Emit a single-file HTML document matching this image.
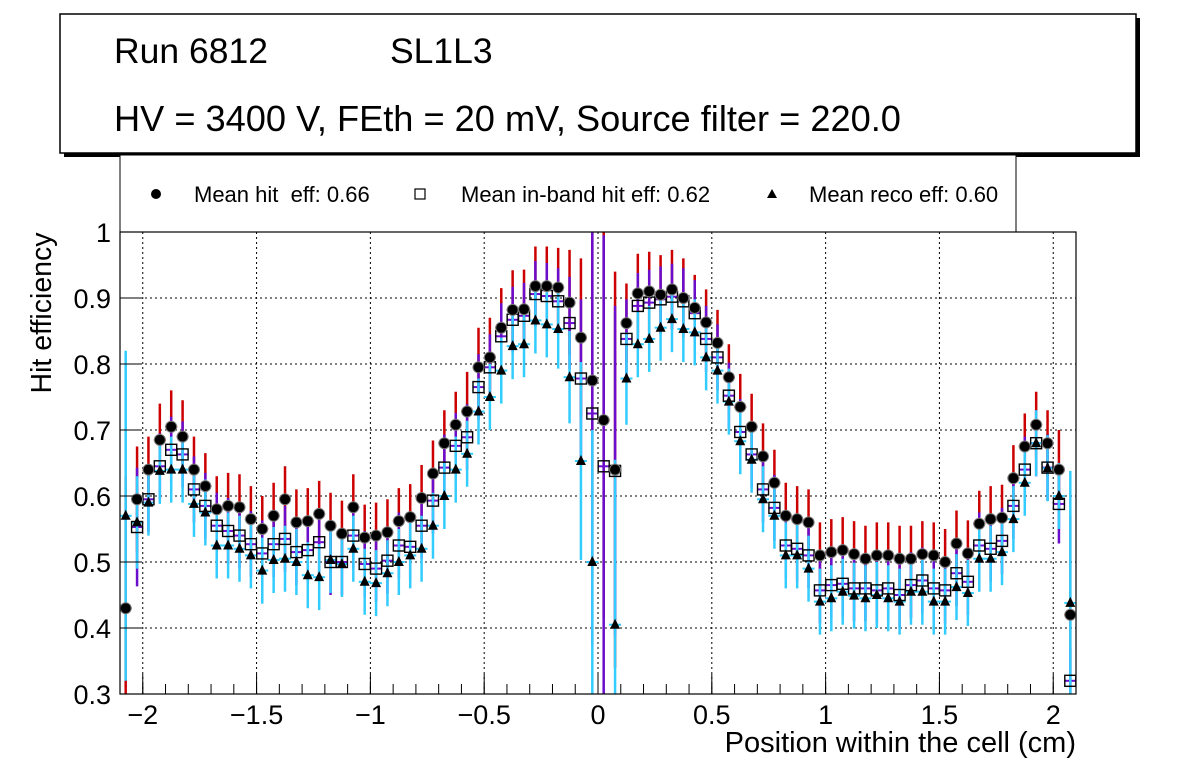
<!DOCTYPE html>
<html><head><meta charset="utf-8"><style>
body{margin:0;background:#fff;}
svg{display:block;font-family:"Liberation Sans",sans-serif;}
</style></head><body>
<svg id="chart" width="1196" height="772" viewBox="0 0 1196 772" xmlns="http://www.w3.org/2000/svg">
<rect x="0" y="0" width="1196" height="772" fill="#fff"/>
<g>
<rect x="64" y="18" width="1076" height="139" fill="#000"/>
<rect x="60" y="14" width="1076" height="139" fill="#fff" stroke="#000" stroke-width="1.5"/>
<text x="114" y="63" font-size="35.5">Run 6812</text>
<text x="390" y="63" font-size="35.5">SL1L3</text>
<text x="114" y="131" font-size="36.2">HV = 3400 V, FEth = 20 mV, Source filter = 220.0</text>
</g>
<g>
<rect x="120" y="155" width="896" height="77" fill="#fff" stroke="#000" stroke-width="1"/>
<g><circle cx="156" cy="194" r="5" fill="#000"/><text x="194" y="202" font-size="22">Mean hit&#160; eff: 0.66</text></g>
<g><rect x="415" y="189" width="10" height="10" fill="#fff" stroke="#000" stroke-width="1.2"/><text x="461" y="202" font-size="22">Mean in-band hit eff: 0.62</text></g>
<g><polygon points="772,189 767,198 777,198" fill="#000"/><text x="809" y="202" font-size="22">Mean reco eff: 0.60</text></g>
</g>
<g id="grid"></g>
<g id="bars"></g>
<g id="marks"></g>
<rect x="120" y="232" width="956" height="462" fill="none" stroke="#000" stroke-width="1.2"/>
<g id="axes"></g>
<text x="51" y="313" font-size="28.5" transform="rotate(-90 51 313)" text-anchor="middle">Hit efficiency</text>
<text x="1076" y="752" font-size="29" text-anchor="end">Position within the cell (cm)</text>
</svg>
<script>
const hitEff=[0.43,0.595,0.64,0.685,0.705,0.69,0.64,0.615,0.58,0.585,0.583,0.565,0.55,0.57,0.595,0.56,0.562,0.573,0.555,0.543,0.583,0.537,0.54,0.545,0.562,0.568,0.597,0.634,0.68,0.708,0.728,0.795,0.81,0.855,0.882,0.883,0.918,0.918,0.916,0.893,0.84,0.775,0.715,0.64,0.862,0.907,0.91,0.905,0.913,0.9,0.885,0.863,0.832,0.78,0.735,0.705,0.66,0.62,0.57,0.565,0.56,0.51,0.515,0.518,0.512,0.505,0.51,0.51,0.505,0.505,0.512,0.51,0.5,0.528,0.513,0.558,0.565,0.567,0.627,0.675,0.708,0.68,0.64,0.42];
const bandEff=[null,0.553,0.595,0.645,0.67,0.663,0.61,0.585,0.555,0.547,0.54,0.527,0.513,0.527,0.535,0.515,0.518,0.53,0.5,0.5,0.54,0.497,0.49,0.502,0.525,0.523,0.555,0.593,0.643,0.676,0.689,0.765,0.795,0.842,0.867,0.873,0.906,0.903,0.895,0.862,0.778,0.725,0.645,0.638,0.838,0.888,0.893,0.898,0.902,0.895,0.877,0.838,0.81,0.752,0.697,0.663,0.61,0.582,0.525,0.52,0.51,0.457,0.465,0.467,0.46,0.46,0.457,0.46,0.45,0.465,0.472,0.46,0.457,0.483,0.47,0.525,0.52,0.532,0.585,0.64,0.68,0.643,0.588,0.32];
const recoEff=[0.57,0.56,0.59,0.638,0.64,0.64,0.588,0.575,0.525,0.525,0.52,0.51,0.487,0.503,0.505,0.5,0.48,0.477,0.503,0.497,0.52,0.47,0.468,0.483,0.5,0.51,0.52,0.555,0.6,0.64,0.664,0.728,0.75,0.79,0.827,0.83,0.866,0.86,0.853,0.78,0.653,0.5,null,0.405,0.778,0.83,0.838,0.855,0.868,0.853,0.848,0.81,0.79,0.743,0.683,0.655,0.595,0.57,0.51,0.51,0.49,0.44,0.445,0.455,0.449,0.445,0.45,0.445,0.44,0.455,0.455,0.44,0.44,0.462,0.453,0.505,0.505,0.515,0.565,0.62,0.68,0.642,0.6,0.438];
const errHit=[0.2,0.08,0.05,0.055,0.055,0.055,0.05,0.05,0.05,0.05,0.05,0.05,0.05,0.05,0.05,0.05,0.05,0.05,0.05,0.05,0.05,0.05,0.05,0.05,0.05,0.05,0.05,0.05,0.05,0.05,0.06,0.06,0.06,0.06,0.06,0.06,0.06,0.06,0.06,0.08,0.12,0.3,0.3,0.3,0.06,0.06,0.06,0.06,0.06,0.06,0.05,0.05,0.05,0.05,0.05,0.05,0.05,0.05,0.05,0.05,0.05,0.05,0.05,0.05,0.05,0.05,0.05,0.05,0.05,0.05,0.05,0.05,0.05,0.05,0.05,0.05,0.05,0.05,0.05,0.05,0.05,0.05,0.06,0.15];
const errBand=[0,0.09,0.05,0.05,0.05,0.05,0.05,0.05,0.05,0.05,0.05,0.05,0.05,0.05,0.05,0.05,0.05,0.05,0.05,0.05,0.05,0.05,0.05,0.05,0.05,0.05,0.05,0.05,0.05,0.05,0.05,0.05,0.05,0.05,0.05,0.05,0.05,0.05,0.05,0.07,0.12,0.35,0.35,0.25,0.06,0.05,0.05,0.05,0.05,0.05,0.05,0.05,0.05,0.05,0.05,0.05,0.05,0.05,0.05,0.05,0.05,0.05,0.05,0.05,0.05,0.05,0.05,0.05,0.05,0.05,0.05,0.05,0.05,0.05,0.05,0.05,0.05,0.05,0.05,0.05,0.05,0.05,0.06,0.05];
const errReco=[0.25,0.07,0.05,0.05,0.05,0.05,0.05,0.05,0.05,0.05,0.05,0.05,0.05,0.05,0.05,0.05,0.05,0.05,0.05,0.05,0.05,0.05,0.05,0.05,0.05,0.05,0.05,0.05,0.05,0.05,0.05,0.05,0.05,0.05,0.05,0.05,0.05,0.05,0.06,0.07,0.15,0.2,0,0.25,0.07,0.05,0.05,0.05,0.05,0.05,0.05,0.05,0.05,0.05,0.05,0.05,0.05,0.05,0.05,0.05,0.05,0.05,0.05,0.05,0.05,0.05,0.05,0.05,0.05,0.05,0.05,0.05,0.05,0.05,0.05,0.05,0.05,0.05,0.05,0.05,0.05,0.05,0.05,0.2];
const xTicks=[-2,-1.5,-1,-0.5,0,0.5,1,1.5,2];
const xTickLabels=["\u22122","\u22121.5","\u22121","\u22120.5","0","0.5","1","1.5","2"];
const yTicks=[0.3,0.4,0.5,0.6,0.7,0.8,0.9,1];
const yTickLabels=["0.3","0.4","0.5","0.6","0.7","0.8","0.9","1"];
const X0=-2.1,X1=2.1,Y0=0.3,Y1=1.0,L=120,R=1076,T=232,B=694;
const sx=v=>L+(v-X0)/(X1-X0)*(R-L);
const sy=v=>B-(v-Y0)/(Y1-Y0)*(B-T);
const cy=v=>Math.max(T,Math.min(B,sy(v)));
const NS="http://www.w3.org/2000/svg";
function mk(tag,attrs,parent){const e=document.createElementNS(NS,tag);for(const k in attrs)e.setAttribute(k,attrs[k]);parent.appendChild(e);return e;}
const grid=document.getElementById('grid'),axes=document.getElementById('axes'),bars=document.getElementById('bars'),marks=document.getElementById('marks');
xTicks.forEach((t,i)=>{
 const g=mk('line',{x1:sx(t),x2:sx(t),y1:T,y2:B,stroke:'#000','stroke-dasharray':'2,3','stroke-width':1},grid);
 
 
 const tk=mk('line',{x1:sx(t),x2:sx(t),y1:B,y2:B-20,stroke:'#000','stroke-width':1},axes);
 
 
 const tx=mk('text',{x:sx(t),y:724,'font-size':27,'text-anchor':'middle'},axes);
 tx.textContent=xTickLabels[i];
 
 
});
for(let v=-2.1;v<=2.1001;v+=0.1){const tk=mk('line',{x1:sx(v),x2:sx(v),y1:B,y2:B-10,stroke:'#000','stroke-width':1},axes);
 
 }
yTicks.forEach((t,i)=>{
 if(t>Y0&&t<Y1){const g=mk('line',{x1:L,x2:R,y1:sy(t),y2:sy(t),stroke:'#000','stroke-dasharray':'2,3','stroke-width':1},grid);
 
 }
 const tk=mk('line',{x1:L,x2:L+20,y1:sy(t),y2:sy(t),stroke:'#000','stroke-width':1},axes);
 
 
 const tx=mk('text',{x:111,y:sy(t)+10,'font-size':27,'text-anchor':'end'},axes);
 tx.textContent=yTickLabels[i];
 
 
});
const series=[[hitEff,errHit,'#cc0000','hit'],[bandEff,errBand,'#6a0dcc','inband'],[recoEff,errReco,'#33ccff','reco']];
series.forEach(([vals,errs,col,nm])=>{
 vals.forEach((v,i)=>{if(v===null)return;const x=sx(X0+0.025+0.05*i);const e=errs[i];
  if(e>0){const b=mk('line',{x1:x,x2:x,y1:cy(v-e),y2:cy(v+e),stroke:col,'stroke-width':2.5},bars);
  
  }
  const h=mk('line',{x1:x-6,x2:x+6,y1:sy(v),y2:sy(v),stroke:col,'stroke-width':2},bars);
  
  
 });
});
bandEff.forEach((v,i)=>{if(v===null)return;const x=sx(X0+0.025+0.05*i);
 const r=mk('rect',{x:x-5.5,y:sy(v)-5.5,width:11,height:11,fill:'none',stroke:'#000','stroke-width':1.4},marks);
 
 });
hitEff.forEach((v,i)=>{if(v===null)return;const x=sx(X0+0.025+0.05*i);
 const c=mk('circle',{cx:x,cy:sy(v),r:5.5,fill:'#000',stroke:'#777','stroke-width':1},marks);
 
 });
recoEff.forEach((v,i)=>{if(v===null)return;const x=sx(X0+0.025+0.05*i),y=sy(v);
 const p=mk('polygon',{points:`${x},${y-6} ${x-5},${y+4} ${x+5},${y+4}`,fill:'#000'},marks);
 
 });
</script>
</body></html>
